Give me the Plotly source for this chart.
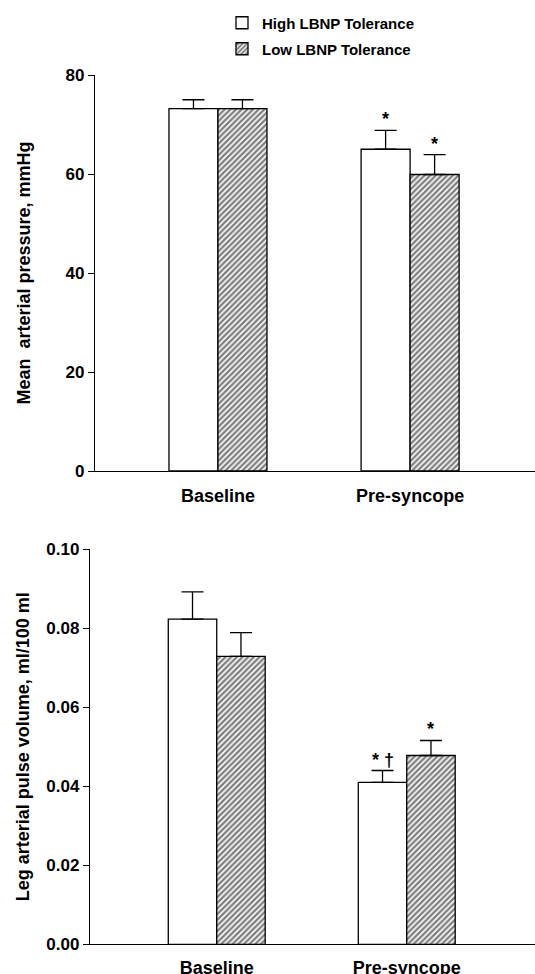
import plotly.graph_objects as go

# ---- data ----
categories = ["Baseline", "Pre-syncope"]
series_names = ["High LBNP Tolerance", "Low LBNP Tolerance"]

map_high = [73.2, 65.0]
map_high_err = [1.8, 3.8]
map_low = [73.2, 59.9]
map_low_err = [1.8, 4.0]
map_high_sig = ["", "*"]
map_low_sig = ["", "*"]

lpv_high = [0.0823, 0.041]
lpv_high_err = [0.0069, 0.003]
lpv_low = [0.0729, 0.0478]
lpv_low_err = [0.0060, 0.0038]
lpv_high_sig = ["", "* \u2020"]
lpv_low_sig = ["", "*"]

map_ticks = [0, 20, 40, 60, 80]
lpv_ticks = [0.00, 0.02, 0.04, 0.06, 0.08, 0.10]
lpv_ticktext = ["0.00", "0.02", "0.04", "0.06", "0.08", "0.10"]

FONT = "Liberation Sans"
BW = 0.255
xs = list(range(len(categories)))

fig = go.Figure()

def add_pair(high, high_err, low, low_err, xa, ya, show):
    fig.add_trace(go.Bar(
        x=xs, y=high, width=BW, offset=-BW, name=series_names[0],
        marker=dict(color="white", line=dict(color="black", width=1.3)),
        error_y=dict(type="data", array=high_err, arrayminus=[0] * len(high),
                     symmetric=False, color="black", thickness=1.3, width=11),
        xaxis=xa, yaxis=ya, showlegend=show, legend="legend"))
    fig.add_trace(go.Bar(
        x=xs, y=low, width=BW, offset=0, name=series_names[1],
        marker=dict(color="white", line=dict(color="black", width=1.3),
                    pattern=dict(shape="/", fgcolor="black", bgcolor="white",
                                 size=4, solidity=0.6)),
        error_y=dict(type="data", array=low_err, arrayminus=[0] * len(low),
                     symmetric=False, color="black", thickness=1.3, width=11),
        xaxis=xa, yaxis=ya, showlegend=show, legend="legend2"))

add_pair(map_high, map_high_err, map_low, map_low_err, "x", "y", True)
add_pair(lpv_high, lpv_high_err, lpv_low, lpv_low_err, "x2", "y2", False)

# significance markers
def add_sig(vals, errs, sigs, offset, xref, yref):
    for i, (v, e, s) in enumerate(zip(vals, errs, sigs)):
        if s:
            fig.add_annotation(x=xs[i] + offset, y=v + e, text=s, xref=xref, yref=yref,
                               showarrow=False, yanchor="bottom", yshift=-1,
                               font=dict(family=FONT, size=18, color="black", weight="bold"))

add_sig(map_high, map_high_err, map_high_sig, -BW / 2, "x", "y")
add_sig(map_low, map_low_err, map_low_sig, BW / 2, "x", "y")
add_sig(lpv_high, lpv_high_err, lpv_high_sig, -BW / 2, "x2", "y2")
add_sig(lpv_low, lpv_low_err, lpv_low_sig, BW / 2, "x2", "y2")

H = 974.0
W = 535.0
axis_common = dict(showline=True, linecolor="black", linewidth=1.3, showgrid=False,
                   zeroline=False, automargin=False)
tickfont = dict(family=FONT, size=17, color="black", weight="bold")
titlefont = dict(family=FONT, size=18, color="black", weight="bold")
catfont = dict(family=FONT, size=18, color="black", weight="bold")
legfont = dict(family=FONT, size=15, color="black", weight="bold")

fig.update_layout(
    width=535, height=974,
    margin=dict(l=0, r=0, t=0, b=0),
    paper_bgcolor="white", plot_bgcolor="white",
    barmode="overlay",
    font=dict(family=FONT, color="black", weight="bold"),
    xaxis=dict(domain=[95 / W, 1], range=[-0.64, 1.65], tickvals=xs, ticktext=categories,
               ticks="", ticklabelstandoff=8, tickfont=catfont,
               anchor="y", **axis_common),
    yaxis=dict(domain=[1 - 471 / H, 1 - 75 / H], range=[0, 80], tickvals=map_ticks,
               ticks="outside", ticklen=6, tickwidth=1.3, tickcolor="black", tickfont=tickfont,
               title=dict(text="Mean  arterial pressure, mmHg", font=titlefont, standoff=30),
               anchor="x", **axis_common),
    xaxis2=dict(domain=[90 / W, 1], range=[-0.667, 1.675], tickvals=xs, ticktext=categories,
                ticks="", ticklabelstandoff=7, tickfont=catfont,
                anchor="y2", **axis_common),
    yaxis2=dict(domain=[1 - 944.3 / H, 1 - 549.3 / H], range=[0, 0.10], tickvals=lpv_ticks,
                ticktext=lpv_ticktext,
                ticks="outside", ticklen=6, tickwidth=1.3, tickcolor="black", tickfont=tickfont,
                title=dict(text="Leg arterial pulse volume, ml/100 ml", font=titlefont, standoff=12),
                anchor="x2", **axis_common),
    legend=dict(x=222 / W, y=1 - 23 / H, xanchor="left", yanchor="middle",
                font=legfont, bgcolor="rgba(0,0,0,0)"),
    legend2=dict(x=222 / W, y=1 - 49 / H, xanchor="left", yanchor="middle",
                 font=legfont, bgcolor="rgba(0,0,0,0)"),
)

fig.write_html("out.html")
